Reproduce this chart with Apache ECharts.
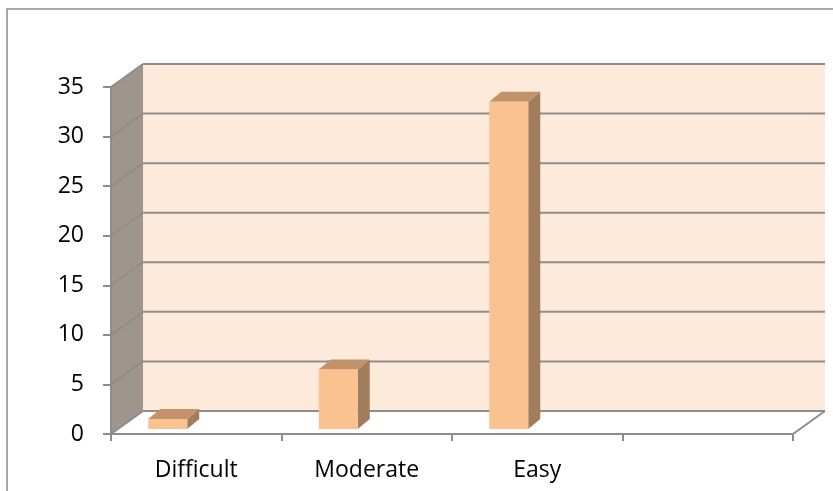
<!DOCTYPE html>
<html>
<head>
<meta charset="utf-8">
<script src="https://cdn.jsdelivr.net/npm/echarts@6/dist/echarts.min.js"></script>
<style>
  html, body { margin: 0; padding: 0; background: #ffffff; }
  #chart { width: 833px; height: 491px; }
</style>
</head>
<body>
<div id="chart"></div>
<script>
// Question difficulty ratings
const categories = ['Difficult', 'Moderate', 'Easy', ''];
const counts = [1, 6, 33];
const yMin = 0;
const yMax = 35;
const yStep = 5;

// 3D look: offset of the back wall from the front axis plane (px)
const WALL_DEPTH = [32, -23];
// bar placement inside the floor and bar thickness (px)
const BAR_FRONT = [7, -5];
const BAR_DEPTH = [12, -10];
const BAR_LEFT = -55;
const BAR_WIDTH = 39;

const GRID_COLOR = '#8d8d8d';
const FONT = '"Open Sans", "Noto Sans", sans-serif';

const chart = echarts.init(document.getElementById('chart'), null, { renderer: 'canvas' });

function renderWalls(params, api) {
  const cs = params.coordSys;
  const dx = WALL_DEPTH[0], dy = WALL_DEPTH[1];
  const x0 = cs.x, x1 = cs.x + cs.width;
  const yTop = api.coord([0, yMax])[1];
  const yBot = api.coord([0, yMin])[1];
  const children = [];
  // back wall
  children.push({
    type: 'polygon',
    shape: { points: [[x0 + dx, yTop + dy], [x1 + dx, yTop + dy], [x1 + dx, yBot + dy], [x0 + dx, yBot + dy]] },
    style: { fill: '#fdeadb', stroke: null }
  });
  // side wall
  children.push({
    type: 'polygon',
    shape: { points: [[x0, yTop], [x0 + dx, yTop + dy], [x0 + dx, yBot + dy], [x0, yBot]] },
    style: { fill: '#a0958c', stroke: null }
  });
  // floor
  children.push({
    type: 'polygon',
    shape: { points: [[x0, yBot], [x1, yBot], [x1 + dx, yBot + dy], [x0 + dx, yBot + dy]] },
    style: { fill: '#ffffff', stroke: null }
  });
  children.push({
    type: 'line',
    shape: { x1: x1, y1: yBot, x2: x1 + dx, y2: yBot + dy },
    style: { stroke: GRID_COLOR, lineWidth: 2 }
  });
  // grid lines across both walls
  for (let v = yMin; v <= yMax; v += yStep) {
    const y = api.coord([0, v])[1];
    children.push({
      type: 'line',
      shape: { x1: x0, y1: y, x2: x0 + dx, y2: y + dy },
      style: { stroke: GRID_COLOR, lineWidth: 2 }
    });
    children.push({
      type: 'line',
      shape: { x1: x0 + dx, y1: y + dy, x2: x1 + dx, y2: y + dy },
      style: { stroke: GRID_COLOR, lineWidth: 2 }
    });
  }
  return { type: 'group', children: children };
}

function renderBar(params, api) {
  const i = api.value(0);
  const v = api.value(1);
  const base = api.coord([i, 0]);
  const top = api.coord([i, v]);
  const xl = base[0] + BAR_LEFT + BAR_FRONT[0];
  const xr = xl + BAR_WIDTH;
  const yb = base[1] + BAR_FRONT[1];
  const yt = top[1] + BAR_FRONT[1];
  const ddx = BAR_DEPTH[0], ddy = BAR_DEPTH[1];
  return {
    type: 'group',
    children: [
      {
        type: 'polygon',
        shape: { points: [[xr, yb], [xr, yt], [xr + ddx, yt + ddy], [xr + ddx, yb + ddy]] },
        style: { fill: '#a07d5c' }
      },
      {
        type: 'polygon',
        shape: { points: [[xl, yt], [xr, yt], [xr + ddx, yt + ddy], [xl + ddx, yt + ddy]] },
        style: { fill: '#c2926b' }
      },
      {
        type: 'rect',
        shape: { x: xl, y: yt, width: BAR_WIDTH, height: yb - yt },
        style: { fill: '#fac191' }
      }
    ]
  };
}

const option = {
  backgroundColor: '#ffffff',
  animation: false,
  grid: { left: 111, right: 40, top: 87, bottom: 57, containLabel: false },
  graphic: [
    {
      type: 'rect',
      shape: { x: 7, y: 9, width: 900, height: 600 },
      style: { fill: 'none', stroke: '#8a8a8a', lineWidth: 1.5 },
      silent: true,
      z: 0
    }
  ],
  xAxis: {
    type: 'category',
    data: categories,
    boundaryGap: true,
    axisLine: { show: true, lineStyle: { color: GRID_COLOR, width: 2 } },
    axisTick: { show: true, length: 7, alignWithLabel: false, lineStyle: { color: GRID_COLOR, width: 2 } },
    axisLabel: { margin: 25, color: '#000000', fontSize: 23, fontFamily: FONT },
    splitLine: { show: false },
    z: 5
  },
  yAxis: {
    type: 'value',
    min: yMin,
    max: yMax,
    interval: yStep,
    axisLine: { show: true, lineStyle: { color: GRID_COLOR, width: 2 } },
    axisTick: { show: true, length: 8, lineStyle: { color: GRID_COLOR, width: 2 } },
    axisLabel: { margin: 27, color: '#000000', fontSize: 23, fontFamily: FONT },
    splitLine: { show: false },
    z: 5
  },
  series: [
    {
      type: 'custom',
      name: 'walls',
      renderItem: renderWalls,
      data: [0],
      silent: true,
      z: 1
    },
    {
      type: 'custom',
      name: 'count',
      renderItem: renderBar,
      encode: { x: 0, y: 1 },
      data: counts.map((c, i) => [i, c]),
      z: 2
    }
  ]
};

chart.setOption(option);
</script>
</body>
</html>
